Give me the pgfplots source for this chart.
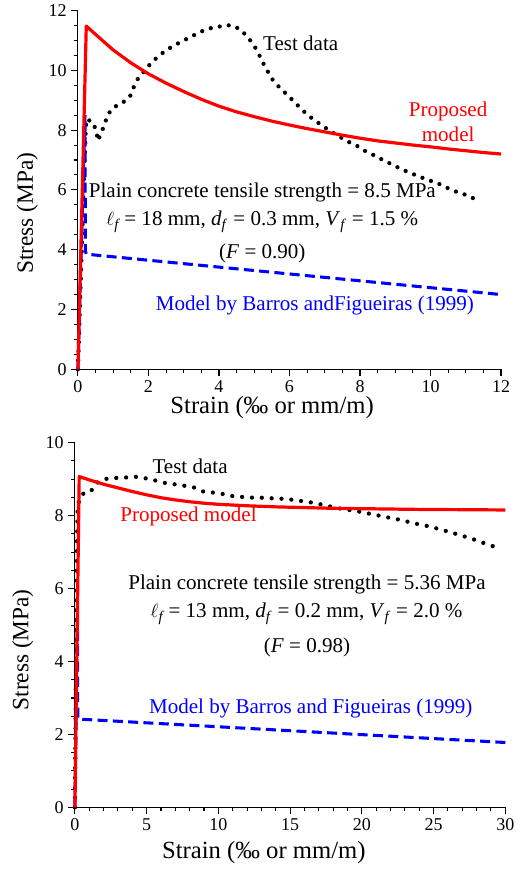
\documentclass[border=0pt]{standalone}
\usepackage{pgfplots}
\pgfplotsset{compat=1.18}
\usepackage{fontspec}
\setmainfont{Liberation Serif}
\tikzset{ann/.style={font=\fontsize{15.8}{20}\selectfont, align=center}}
\begin{document}
\begin{tikzpicture}
\draw[white] (0pt,0pt) rectangle (392.25pt,651.75pt);
\pgfplotsset{
  myax/.style={
    scale only axis,
    axis x line*=bottom, axis y line*=left,
    axis line style={line width=0.8pt},
    every tick/.style={black, line width=0.8pt},
    tick align=outside,
    major tick length=5pt, minor tick length=3pt,
    /pgf/number format/assume math mode=true,
    tick label style={font=\fontsize{13.5}{13.5}\selectfont},
    xlabel style={font=\fontsize{18.5}{18.5}\selectfont},
    ylabel style={font=\fontsize{17.5}{17.5}\selectfont},
    clip=false,
  },
  redm/.style={red, line width=2.4pt, line join=round},
  bluem/.style={blue, line width=2.3pt, dash pattern=on 7.5pt off 4pt},
  testd/.style={black, line width=3.2pt, line cap=round, dash pattern=on 0pt off 6.8pt},
  testdb/.style={black, line width=3.2pt, line cap=round, dash pattern=on 0pt off 7.4pt},
}
% ---------------- top ----------------
\begin{axis}[myax, at={(58.3pt,374.8pt)}, anchor=south west,
  width=317.5pt, height=269.25pt,
  xmin=0, xmax=12, ymin=0, ymax=12,
  xtick={0,2,...,12}, ytick={0,2,...,12},
  minor x tick num=3, minor y tick num=3,
  xlabel={Strain (‰ or mm/m)}, ylabel={Stress (MPa)},
  xlabel style={at={(axis description cs:0.459,-0.108)}, anchor=center},
  ylabel style={at={(axis description cs:-0.12,0.435)}, anchor=center},
]
\addplot[testd] coordinates {
(0,0) (0.04,1.5) (0.08,3) (0.12,4.5) (0.16,6) (0.2,7.4) (0.236,8.37)
(0.416,8.27) (0.52,7.98) (0.567,7.64) (0.65,7.88) (0.757,8.19) (0.84,8.51)
(1.01,8.76) (1.26,8.91) (1.47,9.11) (1.58,9.43) (1.70,9.72) (1.88,9.97)
(2.05,10.21) (2.26,10.45) (2.50,10.67) (2.74,10.84) (3.00,11.00) (3.25,11.15)
(3.50,11.30) (3.77,11.41) (4.05,11.47) (4.32,11.51) (4.58,11.39) (4.78,11.16)
(4.96,10.89) (5.11,10.60) (5.22,10.31) (5.36,10.01) (5.50,9.72) (5.69,9.46)
(5.89,9.23) (6.09,9.00) (6.29,8.76) (6.50,8.52) (6.71,8.33) (6.95,8.13)
(7.19,7.94) (7.42,7.78) (7.67,7.61) (7.92,7.47) (8.15,7.30) (8.41,7.15)
(8.65,7.00) (8.91,6.85) (9.16,6.70) (9.42,6.57) (9.69,6.44) (9.94,6.33)
(10.21,6.22) (10.47,6.07) (10.73,5.94) (11.01,5.83) (11.27,5.69)
};
\addplot[bluem] coordinates {
(0,0) (0.2,8.5) (0.21,3.95) (0.24,3.85) (12,2.5)
};
\addplot[redm] coordinates {
(0,0) (0.236,11.48) (0.5,11.2) (1.0,10.68) (1.5,10.25) (2.0,9.88) (2.5,9.57)
(3.0,9.29) (3.5,9.03) (4.0,8.80) (4.5,8.61) (5.0,8.45) (5.5,8.30) (6.0,8.17)
(6.5,8.05) (7.0,7.94) (7.5,7.83) (8.0,7.73) (8.5,7.64) (9.0,7.57) (9.5,7.50)
(10.0,7.44) (10.5,7.37) (11.0,7.31) (11.5,7.25) (12.0,7.20)
};
\node[ann, anchor=west] at (axis cs:5.12,10.9) {Test data};
\node[ann, red] at (axis cs:10.5,8.27) {Proposed\\[-1pt]model};
\node[ann] at (axis cs:5.23,5.91) {Plain concrete tensile strength = 8.5 MPa};
\node[ann] at (axis cs:5.23,4.94) {$\ell_{\mathit{f}}$ = 18 mm, \textit{d}\textsubscript{\textit{f}} = 0.3 mm, \textit{V}\textsubscript{\textit{f}} = 1.5 \%};
\node[ann] at (axis cs:5.23,3.86) {(\textit{F} = 0.90)};
\node[ann, blue] at (axis cs:6.72,2.12) {Model by Barros andFigueiras (1999)};
\end{axis}
% ---------------- bottom ----------------
\begin{axis}[myax, at={(56.0pt,46.0pt)}, anchor=south west,
  width=323pt, height=273.75pt,
  xmin=0, xmax=30, ymin=0, ymax=10,
  xtick={0,5,...,30}, ytick={0,2,...,10},
  minor x tick num=4, minor y tick num=3,
  xlabel={Strain (‰ or mm/m)}, ylabel={Stress (MPa)},
  xlabel style={at={(axis description cs:0.439,-0.125)}, anchor=center},
  ylabel style={at={(axis description cs:-0.121,0.432)}, anchor=center},
]
\addplot[testdb] coordinates {
(0,0) (0.03,1.5) (0.06,3) (0.09,4.5) (0.12,6) (0.15,7.3) (0.2,8.3)
(0.49,8.59) (1.11,8.65) (1.39,8.87) (2.00,9.00) (2.69,9.03) (3.44,9.04)
(4.13,9.07) (4.83,9.03) (5.53,8.97) (6.22,8.90) (6.92,8.86) (7.62,8.82)
(8.31,8.77) (8.96,8.66) (9.66,8.63) (10.36,8.59) (11.05,8.53) (11.75,8.51)
(12.44,8.49) (13.14,8.49) (13.88,8.47) (14.58,8.46) (15.28,8.43) (15.97,8.39)
(16.67,8.35) (17.34,8.29) (18.02,8.23) (18.76,8.17) (19.46,8.14) (20.15,8.08)
(20.85,8.03) (21.55,7.97) (22.24,7.92) (22.94,7.86) (23.61,7.79) (24.31,7.74)
(25.01,7.67) (25.68,7.60) (26.38,7.52) (27.05,7.44) (27.72,7.36) (28.40,7.26)
(29.07,7.17) (29.74,7.10)
};
\addplot[bluem] coordinates {
(0,0) (0.18,5.36) (0.2,2.45) (0.33,2.42) (30,1.78)
};
\addplot[redm] coordinates {
(0,0) (0.30,9.07) (1,8.98) (2,8.86) (3,8.76) (4,8.66) (5,8.57) (6,8.49)
(7,8.43) (8,8.38) (9,8.34) (10,8.31) (12,8.27) (14,8.24) (16,8.22)
(18,8.20) (20,8.19) (22,8.18) (24,8.17) (26,8.165) (28,8.16) (30,8.155)
};
\node[ann] at (axis cs:8.03,9.34) {Test data};
\node[ann, red] at (axis cs:7.92,7.97) {Proposed model};
\node[ann] at (axis cs:16.18,6.10) {Plain concrete tensile strength = 5.36 MPa};
\node[ann] at (axis cs:16.15,5.30) {$\ell_{\mathit{f}}$ = 13 mm, \textit{d}\textsubscript{\textit{f}} = 0.2 mm, \textit{V}\textsubscript{\textit{f}} = 2.0 \%};
\node[ann] at (axis cs:16.18,4.38) {(\textit{F} = 0.98)};
\node[ann, blue] at (axis cs:16.44,2.72) {Model by Barros and Figueiras (1999)};
\end{axis}
\end{tikzpicture}
\end{document}
